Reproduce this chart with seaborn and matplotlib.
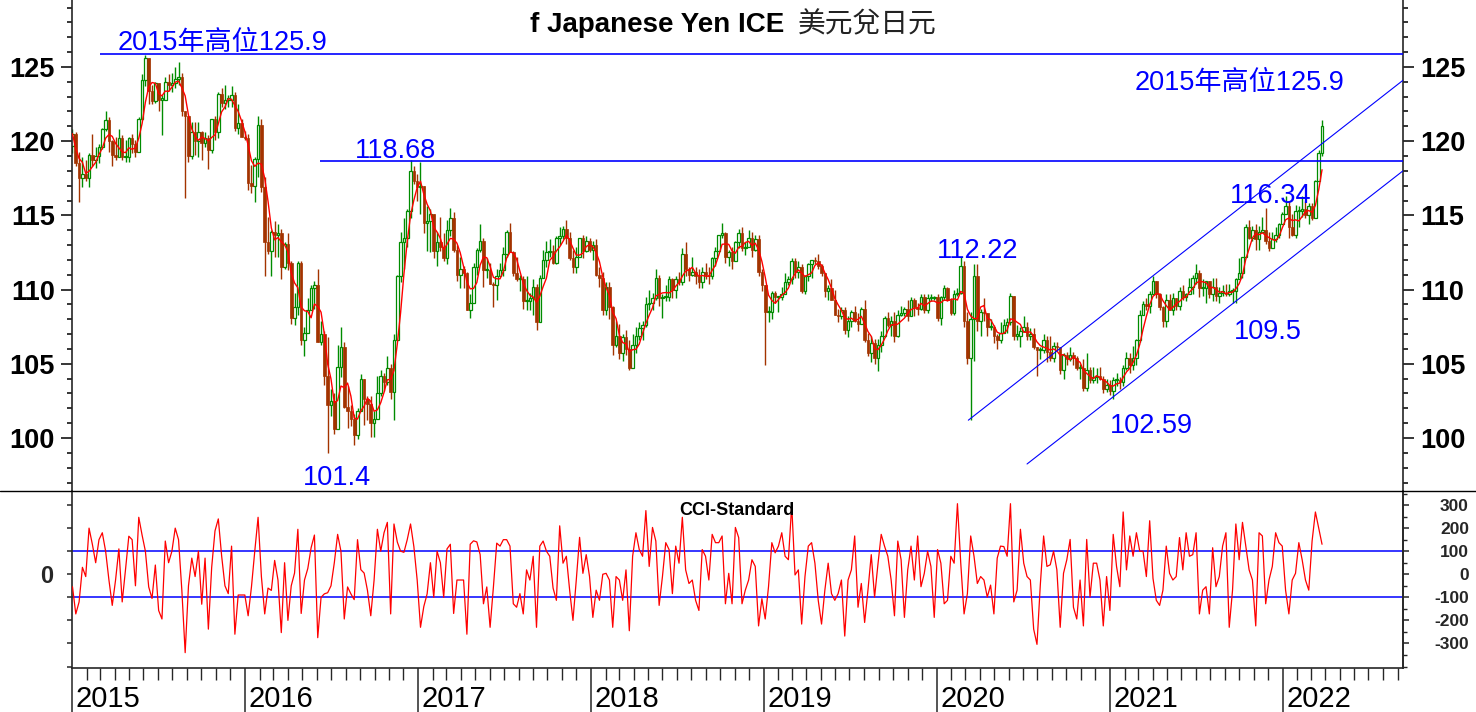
import numpy as np
import pandas as pd
import matplotlib
matplotlib.use("Agg")
import matplotlib.pyplot as plt
import matplotlib.dates as mdates
from matplotlib.ticker import FixedLocator, MultipleLocator, FuncFormatter
from matplotlib.lines import Line2D
import seaborn as sns

# ---------------- data (weekly, Fridays from 2015-01-02) ----------------
first_open = 119.7

week_close = [
    # 2015
    120.5, 118.5, 117.5, 117.8, 117.5, 119.1, 118.7, 119.0, 119.6, 120.8,
    121.4, 120.0, 119.1, 118.9, 120.2, 118.9, 118.9, 120.2, 119.8, 119.3,
    121.5, 124.1, 125.6, 123.4, 122.7, 123.9, 122.8, 122.8, 124.0, 123.8,
    123.9, 124.2, 124.3, 122.0, 121.7, 119.0, 120.6, 120.0, 120.6, 119.9,
    120.2, 119.4, 121.5, 120.6, 123.2, 122.6, 122.8, 122.8, 123.1, 120.9,
    121.2, 120.3,
    # 2016
    120.2, 117.2, 117.0, 118.8, 121.1, 116.9, 113.2, 112.6, 113.9, 113.7,
    113.8, 111.5, 113.1, 111.8, 108.1, 108.8, 111.8, 106.6, 107.1, 108.6,
    110.1, 110.3, 106.5, 107.0, 104.2, 102.2, 102.5, 100.6, 104.8, 106.1,
    102.1, 101.8, 101.3, 100.2, 101.8, 104.0, 102.6, 102.3, 101.0, 101.3,
    103.0, 104.2, 103.8, 104.7, 103.1, 106.6, 110.9, 113.2, 113.5, 115.3,
    118.0, 117.3, 116.9,
    # 2017
    117.0, 114.5, 114.6, 115.1, 112.6, 113.2, 112.9, 112.1, 114.0, 114.8,
    112.7, 111.0, 111.4, 111.1, 108.6, 109.1, 111.5, 112.7, 113.3, 111.3,
    111.3, 110.4, 110.3, 110.9, 111.3, 112.4, 113.9, 112.5, 111.1, 110.7,
    110.7, 109.2, 109.2, 109.4, 110.2, 107.8, 110.8, 112.0, 112.5, 112.6,
    111.8, 113.5, 113.6, 114.1, 113.5, 112.1, 111.5, 112.2, 113.5, 112.6,
    113.3, 112.7,
    # 2018
    113.0, 111.0, 110.8, 108.6, 110.2, 108.8, 106.3, 106.9, 105.7, 106.8,
    106.0, 104.7, 106.3, 106.9, 107.4, 107.6, 109.0, 109.1, 109.4, 110.8,
    109.4, 109.5, 109.5, 110.7, 110.0, 110.7, 110.5, 112.4, 111.4, 111.0,
    111.2, 110.9, 110.5, 111.2, 111.0, 110.9, 112.1, 112.6, 113.7, 113.8,
    112.2, 112.5, 111.9, 113.2, 113.8, 112.8, 112.9, 113.5, 112.7, 113.4,
    111.2, 110.3,
    # 2019
    108.5, 108.5, 109.8, 109.5, 109.5, 109.7, 110.5, 110.7, 111.9, 111.2,
    111.5, 109.9, 110.9, 111.7, 112.0, 111.9, 111.6, 111.1, 109.9, 110.1,
    109.3, 108.3, 108.2, 108.6, 107.3, 107.9, 108.5, 107.9, 107.7, 108.7,
    106.6, 105.7, 106.4, 105.4, 106.3, 106.9, 108.1, 107.6, 107.9, 106.9,
    108.3, 108.4, 108.7, 108.2, 109.3, 108.8, 108.7, 109.5, 108.6, 109.4,
    109.4, 109.5,
    # 2020
    108.1, 109.5, 110.1, 109.3, 108.4, 109.7, 109.8, 111.6, 107.9, 105.4,
    108.0, 110.9, 107.9, 108.5, 108.4, 107.5, 107.5, 106.9, 106.6, 107.1,
    107.6, 107.8, 109.6, 106.9, 106.9, 107.2, 107.5, 106.9, 107.0, 106.1,
    105.9, 105.9, 106.6, 105.8, 105.4, 106.2, 106.1, 104.6, 105.6, 105.3,
    105.6, 105.4, 104.7, 104.7, 103.4, 104.6, 103.9, 104.1, 104.2, 104.0,
    103.3, 103.6,
    # 2021
    103.2, 103.9, 103.9, 103.8, 104.7, 105.4, 104.9, 105.4, 106.6, 108.3,
    109.0, 108.9, 109.7, 110.6, 109.7, 108.8, 107.9, 109.3, 108.6, 109.4,
    108.9, 109.9, 109.5, 109.7, 110.2, 110.8, 111.1, 110.1, 110.1, 110.6,
    109.7, 110.2, 109.6, 109.8, 109.8, 109.7, 109.9, 109.9, 110.7, 111.1,
    112.2, 114.2, 113.5, 114.0, 113.4, 113.9, 114.0, 113.3, 112.8, 113.4,
    113.7, 114.4, 115.1,
    # 2022
    115.6, 114.2, 113.7, 115.3, 115.3, 115.4, 115.0, 115.6, 114.8, 117.3,
    119.2, 121.0,
]

week_high = [
    # 2015
    120.8, 120.6, 119.3, 118.9, 118.7, 119.2, 120.5, 119.6, 119.8, 120.9,
    122.0, 121.6, 120.1, 120.3, 120.8, 120.4, 120.1, 120.3, 120.5, 120.1,
    121.6, 124.5, 125.8, 125.0, 123.8, 124.0, 123.8, 123.1, 124.3, 124.5,
    124.6, 125.0, 125.3, 124.6, 122.0, 121.7, 121.3, 121.3, 121.3, 120.7,
    120.6, 120.4, 121.5, 121.7, 123.3, 123.6, 123.8, 123.1, 123.7, 123.3,
    122.5, 121.5,
    # 2016
    120.7, 120.5, 118.4, 118.9, 121.7, 121.5, 117.6, 114.9, 114.0, 114.6,
    114.4, 114.1, 113.2, 113.8, 111.9, 109.8, 111.9, 111.9, 107.5, 109.4,
    110.3, 110.6, 111.4, 107.9, 107.2, 106.8, 103.3, 103.0, 106.3, 107.5,
    106.5, 103.5, 102.2, 101.6, 102.0, 104.3, 104.0, 102.8, 102.8, 101.8,
    104.2, 104.6, 104.4, 105.5, 105.0, 107.0, 111.0, 113.9, 114.8, 115.4,
    118.7, 118.3, 117.8,
    # 2017
    118.6, 116.9, 115.6, 115.4, 115.0, 113.9, 114.9, 113.8, 114.7, 115.5,
    115.2, 113.0, 112.2, 111.6, 111.2, 109.7, 111.8, 112.8, 114.4, 113.5,
    112.1, 111.8, 110.5, 111.4, 111.8, 112.9, 114.0, 114.5, 112.6, 112.2,
    111.0, 110.9, 110.9, 109.8, 110.7, 110.4, 111.0, 112.7, 113.3, 113.4,
    113.0, 113.6, 114.2, 114.3, 114.7, 113.9, 112.7, 112.9, 113.5, 113.7,
    113.6, 113.5,
    # 2018
    113.3, 113.4, 111.5, 111.2, 110.5, 110.5, 108.9, 107.9, 107.7, 107.0,
    107.3, 106.6, 107.0, 107.5, 107.8, 107.9, 109.5, 110.0, 109.8, 111.4,
    111.0, 109.7, 110.3, 110.9, 110.8, 110.9, 111.2, 112.8, 113.2, 111.5,
    112.2, 111.5, 111.4, 111.5, 111.8, 111.5, 112.2, 112.9, 113.7, 114.5,
    113.9, 112.7, 112.9, 113.3, 114.1, 114.2, 113.2, 114.0, 113.9, 113.7,
    113.7, 111.4,
    # 2019
    110.0, 108.9, 109.9, 109.9, 109.6, 110.2, 111.1, 110.9, 112.1, 112.1,
    111.9, 111.7, 111.0, 111.8, 112.0, 112.2, 112.4, 111.7, 111.1, 110.3,
    110.7, 110.0, 108.7, 108.8, 108.8, 108.2, 108.6, 108.9, 108.4, 108.8,
    109.3, 107.1, 106.9, 106.7, 106.7, 107.2, 108.2, 108.5, 108.2, 108.5,
    108.6, 108.9, 108.8, 109.3, 109.5, 109.4, 109.1, 109.7, 109.7, 109.7,
    109.7, 109.6,
    # 2020
    109.7, 109.6, 110.3, 110.2, 109.4, 110.0, 110.1, 112.2, 111.9, 108.5,
    108.5, 111.7, 111.7, 108.7, 109.4, 108.4, 108.0, 107.6, 107.0, 107.8,
    108.0, 108.1, 109.8, 109.6, 107.6, 107.5, 108.2, 107.8, 107.4, 107.4,
    106.1, 106.1, 107.0, 106.9, 106.9, 106.5, 106.5, 106.1, 105.7, 105.8,
    106.1, 105.8, 105.5, 105.0, 105.3, 105.7, 104.8, 104.8, 104.7, 104.8,
    104.2, 104.0,
    # 2021
    103.9, 104.1, 104.4, 104.1, 104.9, 105.8, 105.7, 106.2, 106.7, 108.6,
    109.2, 109.4, 109.9, 110.9, 110.6, 109.8, 108.9, 109.7, 109.7, 109.8,
    109.3, 110.2, 110.3, 109.8, 110.8, 111.0, 111.7, 111.3, 110.7, 110.6,
    110.6, 110.8, 110.8, 110.2, 110.3, 110.4, 110.4, 110.1, 110.8, 112.1,
    112.2, 114.4, 114.7, 114.3, 114.4, 114.3, 114.9, 115.5, 113.9, 113.9,
    114.2, 114.5, 115.2,
    # 2022
    116.3, 116.0, 115.1, 115.7, 115.6, 116.3, 116.0, 115.8, 115.8, 117.4,
    119.4, 121.4,
]

week_low = [
    # 2015
    119.2, 118.3, 115.9, 116.9, 117.3, 116.9, 118.3, 118.2, 118.5, 119.5,
    120.7, 119.3, 118.3, 118.7, 118.9, 118.7, 118.6, 118.6, 119.2, 118.9,
    119.5, 121.4, 123.7, 122.5, 122.5, 122.6, 122.0, 120.4, 122.9, 123.4,
    123.3, 123.6, 123.8, 121.7, 116.2, 118.6, 118.8, 119.1, 118.9, 118.7,
    119.6, 118.1, 119.2, 120.1, 120.2, 122.3, 122.2, 122.3, 122.3, 120.7,
    120.5, 120.3,
    # 2016
    120.1, 116.7, 116.5, 115.9, 117.6, 116.6, 110.9, 112.4, 110.9, 112.2,
    112.2, 110.7, 111.4, 111.3, 107.7, 107.6, 108.3, 106.3, 105.5, 107.1,
    108.6, 108.7, 106.5, 106.3, 103.6, 99.0, 101.5, 100.3, 100.7, 104.1,
    102.0, 100.7, 100.8, 99.5, 99.9, 101.8, 100.9, 101.2, 100.1, 100.1,
    101.3, 102.8, 103.2, 103.6, 102.6, 101.2, 106.7, 110.5, 111.4, 112.9,
    114.8, 117.1, 116.0,
    # 2017
    115.1, 113.8, 112.6, 112.5, 112.1, 111.6, 112.6, 111.9, 111.7, 113.6,
    112.5, 110.6, 110.1, 110.1, 108.7, 108.1, 109.1, 111.0, 112.5, 110.2,
    110.8, 110.4, 108.8, 109.3, 110.9, 110.9, 112.2, 112.5, 110.9, 110.6,
    109.9, 108.7, 108.6, 108.6, 108.3, 107.3, 107.9, 110.9, 111.5, 112.2,
    111.7, 111.7, 113.0, 113.4, 113.1, 112.0, 111.1, 111.1, 112.2, 112.1,
    112.5, 112.5,
    # 2018
    112.0, 110.9, 110.2, 108.3, 108.3, 108.0, 105.6, 106.1, 105.3, 105.2,
    105.6, 104.6, 104.7, 105.7, 106.6, 106.6, 107.5, 108.6, 108.6, 109.3,
    108.9, 108.1, 109.2, 109.2, 109.4, 109.4, 110.3, 110.3, 110.9, 110.6,
    110.9, 110.4, 110.1, 110.1, 110.7, 110.4, 110.7, 111.6, 112.5, 113.5,
    111.8, 111.6, 111.4, 112.0, 112.8, 112.6, 112.3, 112.9, 112.2, 112.6,
    110.9, 109.9,
    # 2019
    104.9, 107.8, 108.0, 109.1, 108.5, 109.3, 109.7, 110.3, 110.4, 110.8,
    110.8, 109.8, 109.7, 110.6, 110.8, 111.7, 111.4, 110.9, 109.5, 109.3,
    109.3, 108.3, 107.8, 108.0, 107.0, 106.8, 107.5, 107.8, 107.2, 107.7,
    106.5, 105.5, 105.1, 105.0, 104.5, 105.8, 106.8, 107.5, 106.9, 106.5,
    106.8, 108.2, 108.2, 107.9, 108.2, 108.2, 108.3, 108.6, 108.4, 108.4,
    109.2, 109.3,
    # 2020
    107.9, 107.6, 109.3, 109.2, 108.3, 108.3, 109.6, 109.7, 107.5, 105.0,
    101.2, 105.2, 107.2, 106.9, 107.9, 106.9, 107.3, 106.4, 106.0, 106.4,
    107.1, 107.1, 107.6, 106.6, 106.6, 106.1, 107.2, 106.6, 106.6, 106.0,
    104.2, 105.3, 105.7, 105.1, 105.2, 105.1, 105.9, 104.3, 104.0, 104.9,
    105.2, 104.9, 104.6, 104.0, 103.2, 103.2, 103.7, 103.7, 103.7, 103.9,
    103.0, 103.1,
    # 2021
    102.9, 102.6, 103.5, 103.3, 103.5, 104.6, 104.4, 104.6, 104.9, 106.5,
    108.3, 108.6, 108.4, 109.7, 109.4, 108.6, 107.5, 107.5, 108.6, 108.3,
    108.6, 108.6, 109.3, 109.2, 109.7, 109.7, 110.4, 109.5, 109.6, 109.1,
    109.4, 109.2, 109.2, 109.1, 109.6, 109.6, 109.6, 109.1, 109.1, 110.8,
    110.8, 112.2, 113.4, 113.3, 112.7, 112.7, 113.9, 113.1, 112.6, 113.1,
    113.2, 113.5, 114.4,
    # 2022
    115.1, 113.5, 113.6, 113.5, 114.2, 114.9, 114.8, 114.4, 114.7, 114.8,
    117.3, 119.0,
]

cci_values = [
    -54, -172, -120, 30, -10, 200, 130, 50, 150, 180,
    100, -25, -135, -25, 110, -120, 20, 165, 150, -50,
    247, 170, 100, -55, -105, 40, -157, -194, 144, 50,
    100, 200, 150, -70, -340, -50, 70, -10, 100, -130,
    70, -238, 30, 188, 240, 80, -50, -84, 122, -260,
    -90, -90, -90, -180, -55, 100, 247, -10, -172, -60,
    -70, 60, -25, -253, 50, -200, -50, 5, 195, -170,
    -25, 25, 115, 170, -275, -100, -85, -80, -50, 50,
    173, 100, -194, -55, -85, -110, 150, 20, 5, -70,
    -180, -25, 195, 100, 180, 225, -172, 218, 140, 100,
    95, 150, 218, 120, -25, -230, -140, -85, 50, -100,
    100, 50, -100, 110, 130, -170, -25, -25, -25, -260,
    130, 145, 140, 85, -128, -55, -230, -55, 135, 122,
    150, 150, 122, -128, -143, -84, -172, 19, -25, 78,
    -230, 122, 144, 100, 78, -60, -113, 210, 48, 78,
    -69, -200, -25, 160, 4, 85, -10, -187, -69, -113,
    0, 4, -25, -230, -10, -25, -113, 19, -245, 78,
    180, 107, 78, 276, 34, 203, 144, -135, -10, 137,
    107, -84, 122, 48, 247, 19, -40, -25, -113, -157,
    107, 78, -25, 173, 137, 137, 166, -128, 4, -128,
    203, 159, -128, -69, -25, 63, 34, -224, -106, -194,
    -54, 137, 93, 122, 180, 78, 63, 300, -3, 19,
    -216, -10, 122, 137, 48, -113, -216, -69, 48, -84,
    -113, -84, -25, -268, -25, 19, 166, -143, -40, -209,
    -69, 85, -99, 41, 173, 122, 78, -25, -180, 144,
    63, -187, 19, 122, -25, 166, -54, 4, 100, 34,
    -187, 107, 48, -128, -113, 78, 48, 306, 48, -172,
    -84, 166, 78, -40, -10, -25, -99, -47, -172, 70,
    122, 120, 78, 306, -120, -69, 195, 48, -10, -25,
    -238, -304, -47, 166, 34, 41, 100, 19, -230, 4,
    63, 151, -143, -194, -25, -224, 151, -99, 48, 48,
    -25, -224, -10, -157, 173, 34, -54, 270, 19, 166,
    78, 180, 100, 100, -10, 232, -18, -113, -135, -69,
    122, 4, -25, -10, 159, 19, 180, 78, 85, 180,
    -172, -69, -54, -172, 115, -54, -10, 122, 180, -230,
    -69, 218, 63, 225, 122, 19, -25, -224, 180, 166,
    -128, -25, 34, 180, 137, 122, -69, -172, -25, 4,
    137, 63, -25, -69, 144, 270, 200, 130,
]

# reference levels / annotations
level_values = [125.9, 118.68]
level_starts = ["2015-03-01", "2016-06-07"]
channel_upper = (["2020-03-08", "2022-09-12"], [101.2, 124.1])
channel_lower = (["2020-07-10", "2022-09-12"], [98.25, 118.0])
note_texts = ["2015年高位125.9", "118.68", "2015年高位125.9", "116.34",
              "112.22", "109.5", "102.59", "101.4"]
note_dates = ["2015-04-08", "2016-08-21", "2021-02-22", "2021-09-11",
              "2020-01-02", "2021-09-19", "2020-12-31", "2016-05-03"]
note_values = [126.15, 118.87, 123.45, 115.84, 112.13, 106.67, 100.34, 96.83]
years = list(range(2015, 2023))

# ---------------- styling ----------------
sns.set_theme(style="ticks")
plt.rcParams["font.family"] = ["Liberation Sans", "Noto Sans CJK TC", "DejaVu Sans"]
plt.rcParams["font.weight"] = "bold"
plt.rcParams["axes.linewidth"] = 1.2

GREEN = "#008c00"
BROWN = "#a33300"
BLUE = "#0000ff"

n = len(week_close)
dates = pd.date_range("2015-01-02", periods=n, freq="7D")
xd = mdates.date2num(dates.to_pydatetime())
close = np.array(week_close, float)
high = np.array(week_high, float)
low = np.array(week_low, float)
cci = np.array(cci_values, float)
opn = np.r_[first_open, close[:-1]]
hi = np.maximum(high, np.maximum(opn, close))
lo = np.minimum(low, np.minimum(opn, close))
up = close >= opn
ma = pd.Series(close).rolling(4, min_periods=1).mean().values

W, H = 1476, 712
fig = plt.figure(figsize=(W / 100, H / 100), dpi=100)
left = 72 / W
width = (1403 - 72) / W
ax = fig.add_axes([left, (H - 491) / H, width, 491 / H])
axc = fig.add_axes([left, (H - 668) / H, width, (668 - 491) / H], sharex=ax)

x_left = mdates.date2num(pd.Timestamp("2015-01-01"))
x_right = mdates.date2num(pd.Timestamp("2022-09-12"))

# ---------------- price panel (candles) ----------------
cols = np.where(up, GREEN, BROWN)
ax.vlines(xd, lo, hi, colors=cols, linewidth=1.0, zorder=2)
body = close - opn
body = np.where(np.abs(body) < 0.08, 0.08, body)
ax.bar(xd[up], body[up], bottom=opn[up], width=5.5, facecolor="white",
       edgecolor=GREEN, linewidth=0.9, zorder=2.2)
ax.bar(xd[~up], body[~up], bottom=opn[~up], width=5.5, facecolor=BROWN,
       edgecolor=BROWN, linewidth=0.5, zorder=2.2)
sns.lineplot(x=xd, y=ma, ax=ax, color="red", linewidth=1.0, zorder=3)

for v, s in zip(level_values, level_starts):
    ax.hlines(v, mdates.date2num(pd.Timestamp(s)), x_right, color=BLUE,
              linewidth=1.2, zorder=4)
for dts, vals in (channel_upper, channel_lower):
    ax.plot([mdates.date2num(pd.Timestamp(d)) for d in dts], vals,
            color=BLUE, linewidth=0.8, zorder=4)
for t, d, v in zip(note_texts, note_dates, note_values):
    ax.text(mdates.date2num(pd.Timestamp(d)), v, t, color=BLUE,
            fontsize=19.5, fontweight="normal", ha="left", va="baseline",
            family=["Liberation Sans", "Noto Sans CJK SC"], zorder=5)

ax.set_xlim(x_left, x_right)
ax.set_ylim(96.43, 129.51)
ax.yaxis.set_major_locator(MultipleLocator(5))
ax.yaxis.set_minor_locator(MultipleLocator(1))
ax.tick_params(axis="y", which="both", left=True, right=True,
               labelleft=True, labelright=True, direction="out",
               colors="black", width=1.1)
ax.tick_params(axis="y", which="major", length=8, labelsize=19.5, pad=4.3)
ax.tick_params(axis="y", which="minor", length=3.6)
ax.tick_params(axis="x", which="both", bottom=False, top=False,
               labelbottom=False, labeltop=False)
ax.spines["top"].set_visible(False)
ax.spines["bottom"].set_visible(False)
ax.set_xlabel("")
ax.set_ylabel("")

# ---------------- CCI panel ----------------
sns.lineplot(x=xd, y=cci, ax=axc, color="red", linewidth=0.9, zorder=3)
axc.axhline(100, color=BLUE, linewidth=1.1, zorder=2)
axc.axhline(-100, color=BLUE, linewidth=1.1, zorder=2)
axc.set_ylim(-406.5, 361)
axc.set_xlim(x_left, x_right)
axc.yaxis.set_major_locator(FixedLocator(list(range(-400, 301, 100))))
axc.yaxis.set_major_formatter(FuncFormatter(lambda v, p: "0" if abs(v) < 1e-6 else ""))
axc.tick_params(axis="y", which="major", left=True, right=False, length=3.6,
                width=1.1, labelsize=17, pad=10, direction="out")
axc.spines["top"].set_visible(False)
axc.set_xlabel("")
axc.set_ylabel("")

axr = axc.twinx()
axr.set_ylim(-406.5, 361)
axr.set_yticks(list(range(-300, 301, 100)))
axr.set_yticklabels([str(v) for v in range(-300, 301, 100)], ha="right")
axr.yaxis.set_minor_locator(FixedLocator(list(range(-400, 351, 50))))
axr.tick_params(axis="y", which="major", length=4.5, width=1.1,
                labelsize=12.5, pad=43, direction="out")
axr.tick_params(axis="y", which="minor", length=3.2, width=1.0, direction="out")
for s in ("top", "bottom", "left"):
    axr.spines[s].set_visible(False)

year_pos = [mdates.date2num(pd.Timestamp(f"{y}-01-01")) for y in years]
month_pos = [mdates.date2num(d) for d in
             pd.date_range("2015-01-01", "2022-09-01", freq="MS").to_pydatetime()]
axc.xaxis.set_major_locator(FixedLocator(year_pos))
axc.xaxis.set_minor_locator(FixedLocator(month_pos))
axc.xaxis.set_major_formatter(FuncFormatter(lambda v, p: ""))
axc.tick_params(axis="x", which="major", length=31.7, width=1.1,
                direction="out", bottom=True)
axc.tick_params(axis="x", which="minor", length=8.6, width=1.0,
                direction="out", bottom=True)
for y, xp in zip(years, year_pos):
    axc.text(xp + 7.5, -0.222, str(y), transform=axc.get_xaxis_transform(),
             fontsize=21, fontweight="normal", ha="left", va="baseline",
             color="black")

# separator line across full width
fig.add_artist(Line2D([0, 1], [(H - 491) / H] * 2, color="black",
                      linewidth=1.0, transform=fig.transFigure))

# titles
fig.text(530 / W, (H - 32) / H, "f Japanese Yen ICE", fontsize=20,
         fontweight="bold", ha="left", va="baseline", color="black")
fig.text(798 / W, (H - 32) / H, "美元兌日元", fontsize=20, fontweight="normal",
         ha="left", va="baseline", color="#222222",
         family=["Noto Sans CJK TC", "DejaVu Sans"])
fig.text(737 / W, (H - 515) / H, "CCI-Standard", fontsize=13,
         fontweight="bold", ha="center", va="baseline", color="black")

fig.savefig("out.png", dpi=100, facecolor="white")
